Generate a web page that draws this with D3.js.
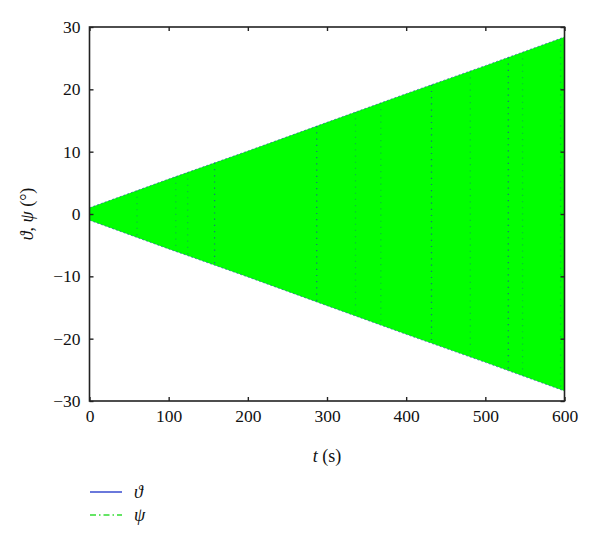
<!DOCTYPE html>
<html><head><meta charset="utf-8">
<script src="https://cdn.jsdelivr.net/npm/d3@7"></script>
<style>body{margin:0;background:#fff}svg{display:block}text{font-family:"Liberation Serif","DejaVu Serif",serif;fill:#111}</style>
</head><body>
<svg id="c" width="600" height="547"></svg>
<script>
// Envelope of the oscillating attitude angles
const envT     = [0, 100, 200, 300, 400, 500, 600];
const envUpper = [1.0, 5.6, 10.1, 14.7, 19.3, 23.8, 28.4];
const envLower = [-1.0, -5.6, -10.1, -14.7, -19.3, -23.8, -28.4];
// times where the dark theta oscillation shows through as dotted verticals
const thetaStreakT = [60, 109, 124, 158, 287, 336, 368, 432, 481, 529, 547, 595];
const thetaStreakStrong = [158, 287, 432, 529];
const xTicks = [0, 100, 200, 300, 400, 500, 600];
const yTicks = [-30, -20, -10, 0, 10, 20, 30];
const legendLabels = ["ϑ", "ψ"];

const svg = d3.select("#c");
const L = 89.5, R = 564.5, T = 27, B = 401;
const x = d3.scaleLinear().domain([0, 600]).range([L, R]);
const y = d3.scaleLinear().domain([-30, 30]).range([B, T]);
const interp = (arr, t) => {
  const i = d3.bisectRight(envT, t) - 1;
  const j = Math.min(i + 1, envT.length - 1);
  if (i === j) return arr[i];
  const f = (t - envT[i]) / (envT[j] - envT[i]);
  return arr[i] + f * (arr[j] - arr[i]);
};
const env = envT.map((t, i) => ({t, u: envUpper[i], l: envLower[i]}));

// psi: filled green band
svg.append("path").datum(env)
  .attr("fill", "#00ff00")
  .attr("d", d3.area().x(d => x(d.t)).y0(d => y(d.l)).y1(d => y(d.u)));

// theta streaks
svg.append("g").selectAll("line").data(thetaStreakT).join("line")
  .attr("x1", d => x(d)).attr("x2", d => x(d))
  .attr("y1", d => y(interp(envUpper, d))).attr("y2", d => y(interp(envLower, d)))
  .attr("stroke", "#1f4f9f")
  .attr("stroke-width", 1.2)
  .attr("stroke-dasharray", "1.2,5")
  .attr("opacity", d => thetaStreakStrong.includes(d) ? 0.8 : 0.35);

// envelope edges (theta peaks)
["u", "l"].forEach(k => {
  svg.append("path").datum(env)
    .attr("fill", "none").attr("stroke", "#2a5fa8").attr("stroke-width", 1)
    .attr("stroke-dasharray", "2,2").attr("opacity", 0.7)
    .attr("d", d3.line().x(d => x(d.t)).y(d => y(d[k])));
});

// axes
const fs = "17.5px";
const gB = svg.append("g").attr("transform", `translate(0,${B})`)
  .call(d3.axisBottom(x).tickValues(xTicks).tickSizeInner(-4).tickSizeOuter(0).tickPadding(9));
const gT = svg.append("g").attr("transform", `translate(0,${T})`)
  .call(d3.axisTop(x).tickValues(xTicks).tickSizeInner(-4).tickSizeOuter(0).tickFormat(""));
const gL = svg.append("g").attr("transform", `translate(${L},0)`)
  .call(d3.axisLeft(y).tickValues(yTicks).tickSizeInner(-4).tickSizeOuter(0).tickPadding(9)
    .tickFormat(d => d < 0 ? "\u2212" + Math.abs(d) : d));
const gR = svg.append("g").attr("transform", `translate(${R},0)`)
  .call(d3.axisRight(y).tickValues(yTicks).tickSizeInner(-4).tickSizeOuter(0).tickFormat(""));
[gB, gT, gL, gR].forEach(g => {
  g.select(".domain").remove();
  g.selectAll(".tick line").attr("stroke", "#222").attr("stroke-width", 1.4);
  g.selectAll("text").style("font-size", fs).attr("fill", "#111")
    .style("font-family", '"Liberation Serif",serif');
});
svg.append("rect").attr("x", L).attr("y", T).attr("width", R - L).attr("height", B - T)
  .attr("fill", "none").attr("stroke", "#222").attr("stroke-width", 1.6);

// axis titles
const xt = svg.append("text").attr("x", x(300)).attr("y", 462).attr("text-anchor", "middle").style("font-size", "18px");
xt.append("tspan").attr("font-style", "italic").text("t");
xt.append("tspan").text(" (s)");
const yt = svg.append("text").attr("transform", `translate(33,${y(0)}) rotate(-90)`)
  .attr("text-anchor", "middle").style("font-size", "18px");
yt.append("tspan").attr("font-style", "italic").text("ϑ");
yt.append("tspan").text(", ");
yt.append("tspan").attr("font-style", "italic").text("ψ");
yt.append("tspan").text(" (°)");

// legend
const leg = svg.append("g");
const styles = [{c: "#1a2fc8", d: null}, {c: "#33dd33", d: "6,3,1.5,3"}];
legendLabels.forEach((lab, i) => {
  const yy = 492 + i * 23;
  leg.append("line").attr("x1", 90).attr("x2", 122).attr("y1", yy).attr("y2", yy)
    .attr("stroke", styles[i].c).attr("stroke-width", 1.3)
    .attr("stroke-dasharray", styles[i].d);
  leg.append("text").attr("x", 134).attr("y", yy + 6).style("font-size", "18px")
    .attr("font-style", "italic").text(lab);
});
</script>
</body></html>
